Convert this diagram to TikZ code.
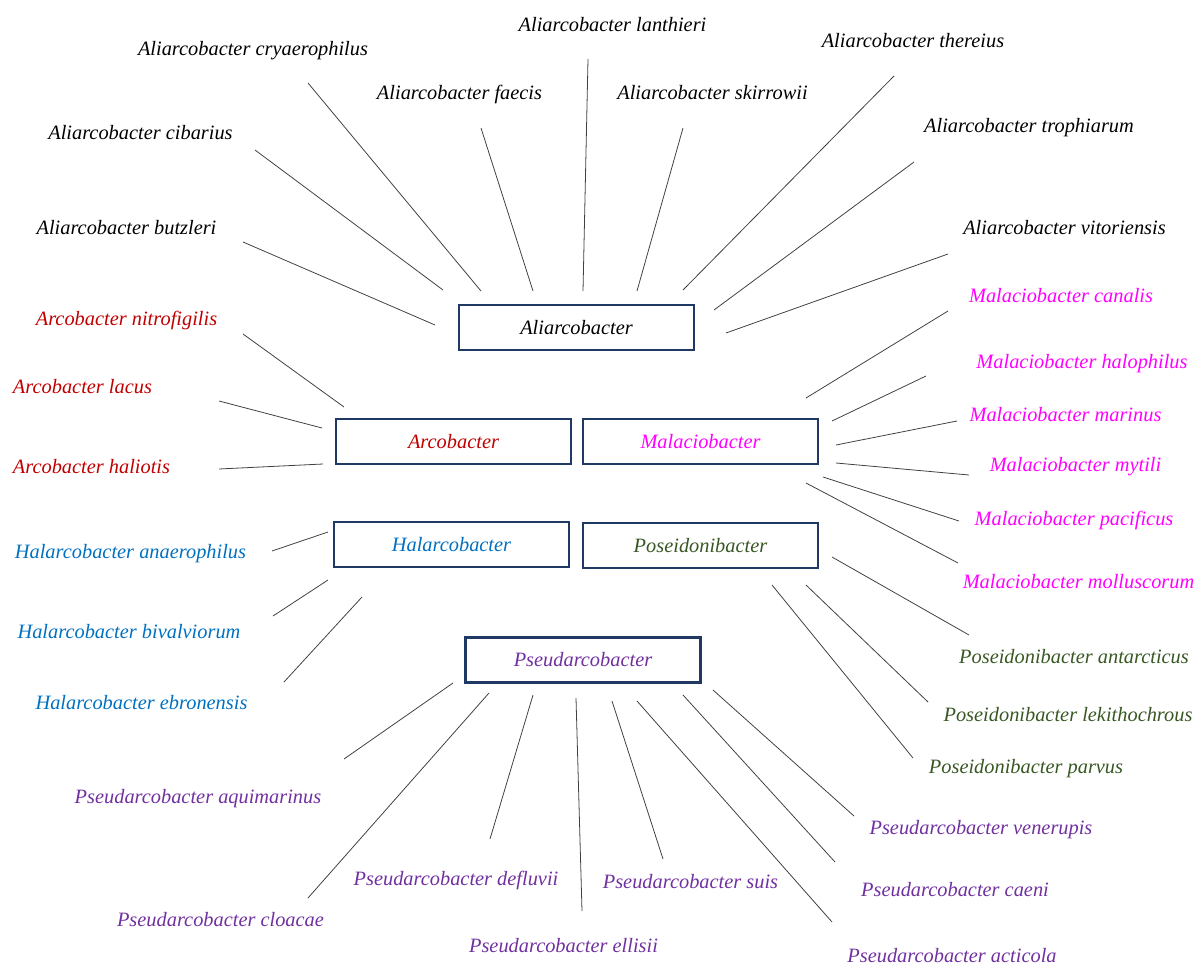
\documentclass[tikz,border=0pt]{standalone}
\usepackage{fontspec}
\setmainfont{Liberation Serif}
\usepackage{xcolor}

\definecolor{boxnavy}{RGB}{31,56,100}
\definecolor{arcred}{RGB}{192,0,0}
\definecolor{malpink}{RGB}{255,0,255}
\definecolor{halblue}{RGB}{0,112,192}
\definecolor{posgreen}{RGB}{56,87,35}
\definecolor{psepurple}{RGB}{112,48,160}

\newcommand{\taxfont}{\fontsize{11.6}{14}\selectfont\itshape}

\tikzset{
  genusbox/.style={draw=boxnavy, line width=1.4pt, fill=white, minimum width=4.7cm,
    minimum height=0.9cm, inner sep=0pt, font=\taxfont},
  species/.style={anchor=base, inner sep=0pt, font=\taxfont},
  leader/.style={draw=black!75, line width=0.45pt}
}

\begin{document}
\begin{tikzpicture}[x=0.02cm, y=-0.02cm]
    \useasboundingbox (0,0) rectangle (1196,966);

    % Genus boxes
    \node[genusbox] (ali) at (576.5,327.5) {Aliarcobacter};
    \node[genusbox, text=arcred] (arc) at (453.5,441.5) {Arcobacter};
    \node[genusbox, text=malpink] (mal) at (700.5,441.5) {Malaciobacter};
    \node[genusbox, text=halblue] (hal) at (451.5,544.5) {Halarcobacter};
    \node[genusbox, text=posgreen] (pos) at (700.5,545.5) {Poseidonibacter};
    \node[genusbox, text=psepurple] (pse) at (583,660) {Pseudarcobacter};

    % Aliarcobacter species
    \node[species] (ali-cry) at (253,56) {Aliarcobacter cryaerophilus};
    \node[species] (ali-lan) at (612.5,32) {Aliarcobacter lanthieri};
    \node[species] (ali-the) at (913,48) {Aliarcobacter thereius};
    \node[species] (ali-fae) at (459.5,100) {Aliarcobacter faecis};
    \node[species] (ali-ski) at (712.5,100) {Aliarcobacter skirrowii};
    \node[species] (ali-cib) at (140.5,140) {Aliarcobacter cibarius};
    \node[species] (ali-tro) at (1029,133) {Aliarcobacter trophiarum};
    \node[species] (ali-but) at (126.5,235) {Aliarcobacter butzleri};
    \node[species] (ali-vit) at (1064.5,235) {Aliarcobacter vitoriensis};

    % Arcobacter species
    \node[species, text=arcred] (arc-nit) at (126.5,325) {Arcobacter nitrofigilis};
    \node[species, text=arcred] (arc-lac) at (82.5,393) {Arcobacter lacus};
    \node[species, text=arcred] (arc-hal) at (91.5,473) {Arcobacter haliotis};

    % Halarcobacter species
    \node[species, text=halblue] (hal-ana) at (130.5,558) {Halarcobacter anaerophilus};
    \node[species, text=halblue] (hal-biv) at (129,638) {Halarcobacter bivalviorum};
    \node[species, text=halblue] (hal-ebr) at (141.5,709) {Halarcobacter ebronensis};

    % Pseudarcobacter species
    \node[species, text=psepurple] (pse-aqu) at (198,803) {Pseudarcobacter aquimarinus};
    \node[species, text=psepurple] (pse-clo) at (220.5,926) {Pseudarcobacter cloacae};
    \node[species, text=psepurple] (pse-def) at (456,885) {Pseudarcobacter defluvii};
    \node[species, text=psepurple] (pse-ell) at (563.5,952) {Pseudarcobacter ellisii};
    \node[species, text=psepurple] (pse-sui) at (690.5,888) {Pseudarcobacter suis};
    \node[species, text=psepurple] (pse-ven) at (981,834) {Pseudarcobacter venerupis};
    \node[species, text=psepurple] (pse-cae) at (955,896) {Pseudarcobacter caeni};
    \node[species, text=psepurple] (pse-act) at (952,962) {Pseudarcobacter acticola};

    % Poseidonibacter species
    \node[species, text=posgreen] (pos-ant) at (1074,663) {Poseidonibacter antarcticus};
    \node[species, text=posgreen] (pos-lek) at (1068,721) {Poseidonibacter lekithochrous};
    \node[species, text=posgreen] (pos-par) at (1026,773) {Poseidonibacter parvus};

    % Malaciobacter species
    \node[species, text=malpink] (mal-can) at (1061,302) {Malaciobacter canalis};
    \node[species, text=malpink] (mal-hal) at (1082,368) {Malaciobacter halophilus};
    \node[species, text=malpink] (mal-mar) at (1065.5,421) {Malaciobacter marinus};
    \node[species, text=malpink] (mal-myt) at (1075.5,471) {Malaciobacter mytili};
    \node[species, text=malpink] (mal-pac) at (1074,525) {Malaciobacter pacificus};
    \node[species, text=malpink] (mal-mol) at (1078.5,588) {Malaciobacter molluscorum};

    % Leader lines (species end -- genus end)
    \foreach \n/\ax/\ay/\bx/\by in {
        ali-cry/308/83/481/291, ali-cib/255/150/443/290, ali-but/243/242/435/325,
        ali-fae/481/128/533/291, ali-lan/588/59/583/291, ali-ski/683/128/637/291,
        ali-the/894/76/683/290, ali-tro/914/162/714/310, ali-vit/948/254/726/333,
        mal-can/948/311/806/398, mal-hal/926/376/832/421, mal-mar/957/421/836/445,
        mal-myt/969/475/836/463, mal-pac/959/521/823/477, mal-mol/958/563/806/483,
        pos-ant/969/635/832/557, pos-lek/928/702/806/585, pos-par/913/758/772/585,
        pse-ven/854/816/713/690, pse-cae/835/862/683/695, pse-act/832/922/637/701,
        pse-sui/663/859/612/701, pse-ell/582/911/576/698, pse-def/490/839/533/695,
        pse-clo/308/898/489/693, pse-aqu/344/759/453/683,
        hal-ebr/284/682/362/597, hal-biv/273/616/328/580, hal-ana/272/551/328/532,
        arc-hal/219/469/323/464, arc-lac/219/401/322/428, arc-nit/243/334/344/407}{
        \coordinate (\n-tip) at (\ax,\ay);
        \coordinate (\n-foot) at (\bx,\by);
        \draw[leader] (\n-tip) -- (\n-foot);
    }
\end{tikzpicture}
\end{document}
